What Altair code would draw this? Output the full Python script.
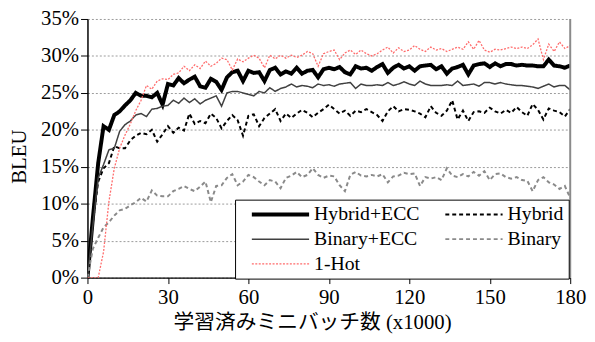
import altair as alt
import pandas as pd

# training steps (x1000)
steps = list(range(0, 181, 2))

hybrid_ecc = [
    0, 8.0, 15.5, 20.5, 20.0, 22.0, 22.5, 23.3, 24.0, 25.0,
    24.6, 24.6, 24.4, 25.0, 23.4, 26.2, 26.0, 27.0, 26.3, 26.8,
    27.2, 25.9, 25.7, 26.9, 26.5, 25.4, 27.1, 27.8, 28.0, 26.6,
    28.0, 27.7, 27.8, 26.6, 28.1, 28.4, 27.5, 27.9, 27.6, 28.4,
    27.6, 28.0, 28.1, 27.1, 28.2, 28.4, 28.2, 28.5, 27.8, 27.5,
    28.6, 28.3, 28.4, 28.0, 28.5, 28.9, 27.7, 28.4, 28.8, 28.3,
    28.6, 28.0, 28.6, 28.7, 28.8, 28.2, 28.6, 27.6, 28.3, 28.5,
    28.8, 27.5, 28.7, 28.9, 29.0, 28.5, 29.0, 28.6, 28.9, 28.9,
    28.7, 28.8, 28.7, 28.7, 28.6, 28.6, 29.5, 28.7, 28.6, 28.4,
    28.7,
]
hybrid = [
    0, 7.5, 13.0, 14.8, 15.5, 17.8, 17.5, 17.5, 18.6, 19.2,
    19.6, 19.4, 20.0, 18.4, 19.4, 20.5, 19.6, 20.3, 19.9, 22.2,
    20.8, 21.2, 20.9, 22.2, 21.6, 20.2, 21.2, 22.0, 21.3, 19.2,
    21.9, 22.1, 20.5, 21.6, 22.2, 22.8, 21.2, 22.2, 21.6, 22.2,
    22.7, 22.3, 21.7, 22.3, 22.8, 23.4, 22.8, 22.2, 22.6, 21.9,
    22.6, 22.4, 22.8, 22.4, 22.0, 21.2, 22.5, 23.2, 22.5, 22.8,
    22.7, 22.5, 22.2, 21.7, 23.2, 22.3, 21.9, 22.6, 24.0, 21.4,
    22.6, 21.2, 22.4, 22.5, 22.3, 23.0, 22.5, 22.2, 22.7, 22.3,
    23.1, 22.4, 21.9, 23.5, 22.7, 21.4, 22.9, 22.6, 22.4, 21.8,
    22.8,
]
binary_ecc = [
    0, 7.0, 13.5, 15.3, 17.3, 17.5, 19.8, 20.7, 21.2, 22.0,
    22.2, 21.8, 22.8, 22.9, 23.2, 23.3, 24.0, 23.6, 24.3, 23.7,
    24.2, 23.5, 24.0, 24.3, 24.6, 23.2, 25.0, 25.2, 25.2, 25.0,
    24.8, 24.6, 25.2, 25.0, 25.7, 25.2, 25.6, 25.8, 26.2, 25.8,
    26.0, 25.9, 25.7, 26.2, 26.0, 26.1, 25.9, 26.2, 26.3, 26.4,
    25.6, 26.2, 26.0, 26.0, 26.1, 26.0, 26.4, 26.0, 26.2, 26.5,
    26.2, 26.0, 26.6, 26.2, 26.0, 26.0, 26.0, 26.1, 26.0, 26.6,
    26.0, 26.1, 26.2, 25.9, 26.4, 26.4, 26.2, 26.4, 26.2, 26.1,
    26.0, 26.0, 25.9, 25.8, 25.6, 25.9, 26.2, 25.8, 26.0, 26.0,
    25.4,
]
binary = [
    0, 3.9, 5.4, 6.8, 7.5, 8.4, 9.1, 9.3, 9.8, 10.2,
    10.8, 10.3, 11.8, 11.1, 11.0, 11.0, 11.7, 12.0, 12.4, 12.0,
    11.7, 12.3, 13.0, 10.2, 12.4, 12.5, 13.5, 14.0, 12.5, 13.0,
    13.9, 13.6, 13.0, 12.5, 13.2, 13.0, 12.1, 13.5, 13.8, 14.3,
    13.6, 13.9, 14.8, 13.9, 13.5, 13.8, 13.7, 12.5, 11.7, 13.9,
    14.3, 13.8, 13.7, 13.9, 13.7, 14.0, 12.9, 13.7, 13.8, 14.2,
    14.0, 14.1, 12.4, 13.6, 13.4, 13.6, 13.2, 14.8, 13.8, 13.6,
    14.0, 13.7, 14.3, 13.8, 14.4, 13.2, 14.0, 14.1, 13.6, 13.4,
    13.6, 13.2, 13.1, 11.7, 13.2, 13.6, 12.9, 12.6, 12.0, 12.4,
    10.8,
]
one_hot = [
    0, 0, 0, 3.5, 10.3, 14.8, 17.5, 19.3, 20.8, 22.6,
    24.0, 26.0, 25.5, 26.6, 26.9, 26.8, 27.5, 27.7, 28.6, 28.0,
    28.8, 28.3, 29.3, 28.6, 29.0, 29.7, 29.5, 28.1, 29.6, 29.2,
    29.7, 30.1, 29.7, 28.4, 30.1, 29.6, 30.1, 29.7, 30.1, 29.8,
    30.1, 30.6, 30.3, 28.6, 30.3, 30.6, 30.8, 29.5, 30.4, 30.8,
    30.2, 30.8, 30.3, 30.0, 30.3, 30.8, 31.2, 30.4, 31.1, 30.6,
    30.8, 31.4, 30.9, 30.6, 31.2, 30.8, 31.0, 30.6, 30.9, 31.2,
    30.9, 31.9, 30.9, 32.1, 30.8, 30.5, 30.9, 30.8, 31.0, 31.2,
    31.0, 31.2, 31.0, 31.5, 32.3, 29.5, 31.6, 30.6, 31.9, 31.0,
    31.4,
]

# drawing order (last on top)
series_names = ["Hybrid+ECC", "Hybrid", "Binary+ECC", "Binary", "1-Hot"]
series_values = [hybrid_ecc, hybrid, binary_ecc, binary, one_hot]

# legend order (filled column by column)
legend_order = ["Hybrid+ECC", "Binary+ECC", "1-Hot", "Hybrid", "Binary"]
legend_colors = ["#000000", "#404040", "#ff6b6b", "#000000", "#8a8a8a"]
legend_dashes = [[1, 0], [1, 0], [2, 1.5], [4, 3], [4, 3]]
legend_widths = [4, 1.5, 1.3, 2, 2]

x_ticks = [0, 30, 60, 90, 120, 150, 180]
y_ticks = [0, 5, 10, 15, 20, 25, 30, 35]
border_x = [180]

rows = []
for name, vals in zip(series_names, series_values):
    for s, v in zip(steps, vals):
        rows.append({"step": s, "bleu": v, "series": name})
df = pd.DataFrame(rows)

SERIF = "Times New Roman"
MIXED = "Times New Roman, Noto Sans CJK JP"

legend_props = dict(
    title=None, orient="none", legendX=149.5, legendY=183, columns=2,
    symbolType="stroke", symbolSize=3364, symbolOffset=10, clipHeight=20,
    labelFont=SERIF, labelFontSize=20, labelColor="#000000", labelOffset=3,
    labelLimit=0, strokeColor="#000000", fillColor="#ffffff",
    padding=5, rowPadding=5, columnPadding=14,
)

lines = alt.Chart(df).mark_line(clip=True).encode(
    x=alt.X(
        "step:Q",
        scale=alt.Scale(domain=[0, 180], nice=False),
        axis=alt.Axis(
            values=x_ticks, grid=False, title="学習済みミニバッチ数 (x1000)",
            labelFont=SERIF, titleFont=MIXED, labelFontSize=21, titleFontSize=21,
            labelColor="#000000", titleColor="#000000", titleFontWeight="normal",
            domainColor="#000000", domainWidth=1.5, tickColor="#000000",
            tickSize=6, labelPadding=3, labelFlush=False,
            titleX=227.5, titleY=46, titleBaseline="middle", titleAlign="center",
        ),
    ),
    y=alt.Y(
        "bleu:Q",
        scale=alt.Scale(domain=[0, 35], nice=False),
        axis=alt.Axis(
            values=y_ticks, labelExpr="datum.value + '%'", title="BLEU",
            labelFont=SERIF, titleFont=SERIF, labelFontSize=21, titleFontSize=21,
            labelColor="#000000", titleColor="#000000", titleFontWeight="normal",
            domainColor="#000000", domainWidth=1.5, tickColor="#000000",
            grid=True, gridDash=[2, 2], gridColor="#9a9a9a", gridWidth=1,
            tickSize=7, labelPadding=2, labelFlush=False,
            titleX=-68.5, titleY=139, titleAngle=270,
            titleBaseline="middle", titleAlign="center",
        ),
    ),
    color=alt.Color(
        "series:N",
        scale=alt.Scale(domain=legend_order, range=legend_colors),
        legend=alt.Legend(**legend_props),
    ),
    strokeDash=alt.StrokeDash(
        "series:N",
        scale=alt.Scale(domain=legend_order, range=legend_dashes),
        legend=alt.Legend(**legend_props),
    ),
    strokeWidth=alt.StrokeWidth(
        "series:N",
        scale=alt.Scale(type="ordinal", domain=legend_order, range=legend_widths),
        legend=alt.Legend(**legend_props),
    ),
)

border = alt.Chart(pd.DataFrame({"step": border_x})).mark_rule(
    color="#8a8a8a", strokeWidth=2
).encode(x="step:Q")

chart = (
    alt.layer(lines, border)
    .properties(
        width=489,
        height=262,
        padding={"left": 80.5, "top": 9, "right": 17, "bottom": 58},
        autosize=alt.AutoSizeParams(type="none"),
    )
    .configure_view(strokeWidth=0)
)

chart.save("out.html", embed_options={"renderer": "svg", "actions": False})
